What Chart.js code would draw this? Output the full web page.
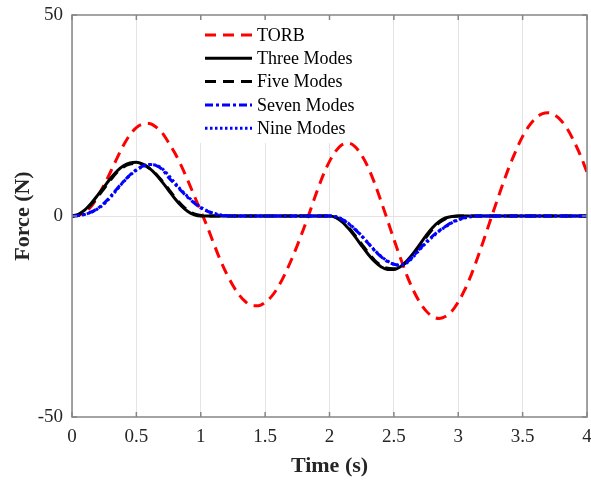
<!DOCTYPE html>
<html>
<head>
<meta charset="utf-8">
<title>Force vs Time</title>
<script src="https://cdn.jsdelivr.net/npm/chart.js@4.4.0/dist/chart.umd.min.js"></script>
<style>
  html, body { margin: 0; padding: 0; background: #ffffff; }
  canvas { display: block; }
</style>
</head>
<body>
<canvas id="forceChart" width="591" height="483"></canvas>
<script>
// Sample times (s)
const time = [
  0, 0.05, 0.1, 0.15, 0.2, 0.25, 0.3, 0.35, 0.4, 0.45,
  0.5, 0.55, 0.6, 0.65, 0.7, 0.75, 0.8, 0.85, 0.9, 0.95,
  1, 1.05, 1.1, 1.15, 1.2, 1.25, 1.3, 1.35, 1.4, 1.45,
  1.5, 1.55, 1.6, 1.65, 1.7, 1.75, 1.8, 1.85, 1.9, 1.95,
  2, 2.05, 2.1, 2.15, 2.2, 2.25, 2.3, 2.35, 2.4, 2.45,
  2.5, 2.55, 2.6, 2.65, 2.7, 2.75, 2.8, 2.85, 2.9, 2.95,
  3, 3.05, 3.1, 3.15, 3.2, 3.25, 3.3, 3.35, 3.4, 3.45,
  3.5, 3.55, 3.6, 3.65, 3.7, 3.75, 3.8, 3.85, 3.9, 3.95,
  4
];

// Force (N) for each model
const torb = [
  0, 0.2, 0.9, 2.4, 4.8, 7.8, 11.0, 14.4, 17.6, 20.2,
  22.0, 22.9, 23.0, 22.2, 20.7, 18.3, 15.6, 12.4, 8.8, 5.0,
  1.2, -2.6, -6.8, -10.8, -14.3, -17.3, -19.7, -21.4, -22.3, -22.3,
  -21.5, -20.0, -17.7, -14.7, -11.2, -7.3, -3.1, 1.3, 5.9, 10.1,
  13.6, 16.2, 17.8, 18.1, 17.2, 15.1, 12.1, 8.2, 3.7, -1.0,
  -5.8, -10.4, -14.7, -18.4, -21.4, -23.6, -25.0, -25.5, -25.0, -23.7,
  -21.4, -18.4, -14.7, -10.4, -5.8, -1.0, 3.7, 8.3, 12.6, 16.4,
  19.8, 22.4, 24.3, 25.4, 25.7, 25.1, 23.7, 21.5, 18.5, 15.0,
  10.9
];

const threeModes = [
  0, 0.4, 1.5, 3.2, 5.2, 7.3, 9.4, 11.2, 12.5, 13.2,
  13.4, 12.9, 11.9, 10.4, 8.5, 6.4, 4.3, 2.5, 1.1, 0.3,
  0, 0, 0, 0, 0, 0, 0, 0, 0, 0,
  0, 0, 0, 0, 0, 0, 0, 0, 0, 0,
  0, -0.4, -1.5, -3.2, -5.2, -7.4, -9.5, -11.3, -12.6, -13.3,
  -13.3, -12.6, -11.2, -9.3, -7.1, -4.9, -2.9, -1.4, -0.5, -0.1,
  0, 0, 0, 0, 0, 0, 0, 0, 0, 0,
  0, 0, 0, 0, 0, 0, 0, 0, 0, 0,
  0
];

const fiveModes = [
  0, 0.3, 1.3, 2.9, 4.8, 6.9, 9.0, 10.9, 12.2, 12.9,
  13.1, 12.8, 11.9, 10.5, 8.7, 6.7, 4.6, 2.8, 1.4, 0.5,
  0.1, 0, 0, 0, 0, 0, 0, 0, 0, 0,
  0, 0, 0, 0, 0, 0, 0, 0, 0, 0,
  0, -0.3, -1.3, -2.9, -4.9, -7.0, -9.1, -11.0, -12.3, -13.0,
  -13.1, -12.6, -11.4, -9.6, -7.5, -5.3, -3.3, -1.7, -0.7, -0.2,
  0, 0, 0, 0, 0, 0, 0, 0, 0, 0,
  0, 0, 0, 0, 0, 0, 0, 0, 0, 0,
  0
];

const sevenModes = [
  0, 0.1, 0.4, 1.0, 1.9, 3.2, 4.9, 6.8, 8.6, 10.2,
  11.5, 12.4, 12.8, 12.6, 11.6, 9.6, 7.9, 6.2, 4.6, 3.2,
  2.0, 1.2, 0.6, 0.2, 0.05, 0, 0, 0, 0, 0,
  0, 0, 0, 0, 0, 0, 0, 0, 0, 0,
  0, -0.2, -0.9, -2.0, -3.4, -5.0, -6.8, -8.6, -10.1, -11.3,
  -12.0, -12.2, -11.5, -10.0, -8.2, -6.5, -5.0, -3.7, -2.6, -1.6,
  -0.9, -0.4, -0.1, 0, 0, 0, 0, 0, 0, 0,
  0, 0, 0, 0, 0, 0, 0, 0, 0, 0,
  0
];

const nineModes = [
  0, 0.1, 0.4, 0.9, 1.8, 3.0, 4.7, 6.6, 8.5, 10.1,
  11.4, 12.3, 12.8, 12.7, 11.8, 10.1, 8.2, 6.4, 4.8, 3.4,
  2.2, 1.3, 0.7, 0.3, 0.1, 0, 0, 0, 0, 0,
  0, 0, 0, 0, 0, 0, 0, 0, 0, 0,
  0, -0.2, -0.8, -1.9, -3.3, -4.9, -6.7, -8.5, -10.0, -11.2,
  -12.0, -12.3, -11.7, -10.2, -8.4, -6.7, -5.2, -3.8, -2.7, -1.7,
  -1.0, -0.5, -0.2, 0, 0, 0, 0, 0, 0, 0,
  0, 0, 0, 0, 0, 0, 0, 0, 0, 0,
  0
];

// Axis ticks
const xTickValues = [0, 0.5, 1, 1.5, 2, 2.5, 3, 3.5, 4];
const xTickLabels = ['0', '0.5', '1', '1.5', '2', '2.5', '3', '3.5', '4'];
const yTickValues = [-50, 0, 50];
const yTickLabels = ['-50', '0', '50'];

const seriesNames = ['TORB', 'Three Modes', 'Five Modes', 'Seven Modes', 'Nine Modes'];

const SERIF = "'Liberation Serif', 'Times New Roman', serif";
const TEXT = '#262626';
const GRID = '#e4e4e4';
const FRAME = '#868686';

function toPoints(values) {
  return time.map((t, i) => ({ x: t, y: values[i] }));
}

const datasets = [
  { label: seriesNames[0], data: toPoints(torb), borderColor: '#ff0000', borderDash: [11, 7], order: 4 },
  { label: seriesNames[1], data: toPoints(threeModes), borderColor: '#000000', borderDash: [], order: 3 },
  { label: seriesNames[2], data: toPoints(fiveModes), borderColor: '#000000', borderDash: [11, 7], order: 2 },
  { label: seriesNames[3], data: toPoints(sevenModes), borderColor: '#0000ff', borderDash: [8, 3, 3, 3], order: 1 },
  { label: seriesNames[4], data: toPoints(nineModes), borderColor: '#0000ff', borderDash: [2.5, 2.5], order: 0 }
].map(d => Object.assign(d, {
  borderWidth: 3,
  pointRadius: 0,
  fill: false,
  cubicInterpolationMode: 'monotone',
  borderCapStyle: 'butt'
}));

// Legend drawn inside the plot area, with a white panel behind it
const legendBox = { x: 190, y: 16, w: 178, h: 127 };
const legendRows = { lineX0: 205, lineX1: 252, textX: 257, y0: 35, dy: 23.3 };

const insideLegend = {
  id: 'insideLegend',
  beforeDatasetsDraw(chart) {
    const ctx = chart.ctx;
    ctx.save();
    ctx.fillStyle = '#ffffff';
    ctx.fillRect(legendBox.x, legendBox.y, legendBox.w, legendBox.h);
    ctx.restore();
  },
  afterDatasetsDraw(chart) {
    const ctx = chart.ctx;
    ctx.save();
    chart.data.datasets.forEach((ds, i) => {
      const y = legendRows.y0 + i * legendRows.dy;
      ctx.beginPath();
      ctx.setLineDash(ds.borderDash || []);
      ctx.lineWidth = ds.borderWidth;
      ctx.strokeStyle = ds.borderColor;
      ctx.lineCap = 'butt';
      ctx.moveTo(legendRows.lineX0, y);
      ctx.lineTo(legendRows.lineX1, y);
      ctx.stroke();
      ctx.setLineDash([]);
      ctx.fillStyle = '#000000';
      ctx.font = '18px ' + SERIF;
      ctx.textBaseline = 'middle';
      ctx.textAlign = 'left';
      ctx.fillText(ds.label, legendRows.textX, y + 1);
    });
    ctx.restore();
  }
};

// Box around the axes with inward tick marks
const axesFrame = {
  id: 'axesFrame',
  afterDraw(chart) {
    const { ctx, chartArea: a, scales } = chart;
    ctx.save();
    ctx.strokeStyle = FRAME;
    ctx.lineWidth = 1.5;
    ctx.strokeRect(a.left, a.top, a.right - a.left, a.bottom - a.top);
    ctx.beginPath();
    const tl = 5;
    xTickValues.forEach(v => {
      const px = scales.x.getPixelForValue(v);
      ctx.moveTo(px, a.bottom); ctx.lineTo(px, a.bottom - tl);
      ctx.moveTo(px, a.top); ctx.lineTo(px, a.top + tl);
    });
    yTickValues.forEach(v => {
      const py = scales.y.getPixelForValue(v);
      ctx.moveTo(a.left, py); ctx.lineTo(a.left + tl, py);
      ctx.moveTo(a.right, py); ctx.lineTo(a.right - tl, py);
    });
    ctx.stroke();
    ctx.restore();
  }
};

new Chart(document.getElementById('forceChart'), {
  type: 'line',
  data: { datasets },
  options: {
    responsive: false,
    animation: false,
    devicePixelRatio: 1,
    layout: { padding: { top: 15, right: 4, left: 0, bottom: 0 } },
    plugins: { legend: { display: false }, tooltip: { enabled: false } },
    scales: {
      x: {
        type: 'linear',
        min: 0,
        max: 4,
        afterBuildTicks: s => { s.ticks = xTickValues.map(v => ({ value: v })); },
        afterFit: s => { s.height = 66; s.paddingLeft = 0; s.paddingRight = 0; },
        ticks: {
          callback: (v, i) => xTickLabels[i],
          font: { family: SERIF, size: 19 },
          color: TEXT,
          padding: 9,
          maxRotation: 0,
          autoSkip: false
        },
        grid: { color: GRID, lineWidth: 1, drawTicks: false },
        border: { display: false },
        title: {
          display: true,
          text: 'Time (s)',
          font: { family: SERIF, size: 22, weight: 'bold' },
          color: TEXT,
          padding: { top: 0, bottom: 3 }
        }
      },
      y: {
        type: 'linear',
        min: -50,
        max: 50,
        afterBuildTicks: s => { s.ticks = yTickValues.map(v => ({ value: v })); },
        afterFit: s => { s.width = 72; s.paddingTop = 0; s.paddingBottom = 0; },
        ticks: {
          callback: (v, i) => yTickLabels[i],
          font: { family: SERIF, size: 19 },
          color: TEXT,
          padding: 9
        },
        grid: {
          color: c => (c.tick && c.tick.value === 0 ? GRID : 'rgba(0,0,0,0)'),
          lineWidth: 1,
          drawTicks: false
        },
        border: { display: false },
        title: {
          display: true,
          text: 'Force (N)',
          font: { family: SERIF, size: 22, weight: 'bold' },
          color: TEXT,
          padding: { top: 10, bottom: 0 }
        }
      }
    }
  },
  plugins: [insideLegend, axesFrame]
});
</script>
</body>
</html>
